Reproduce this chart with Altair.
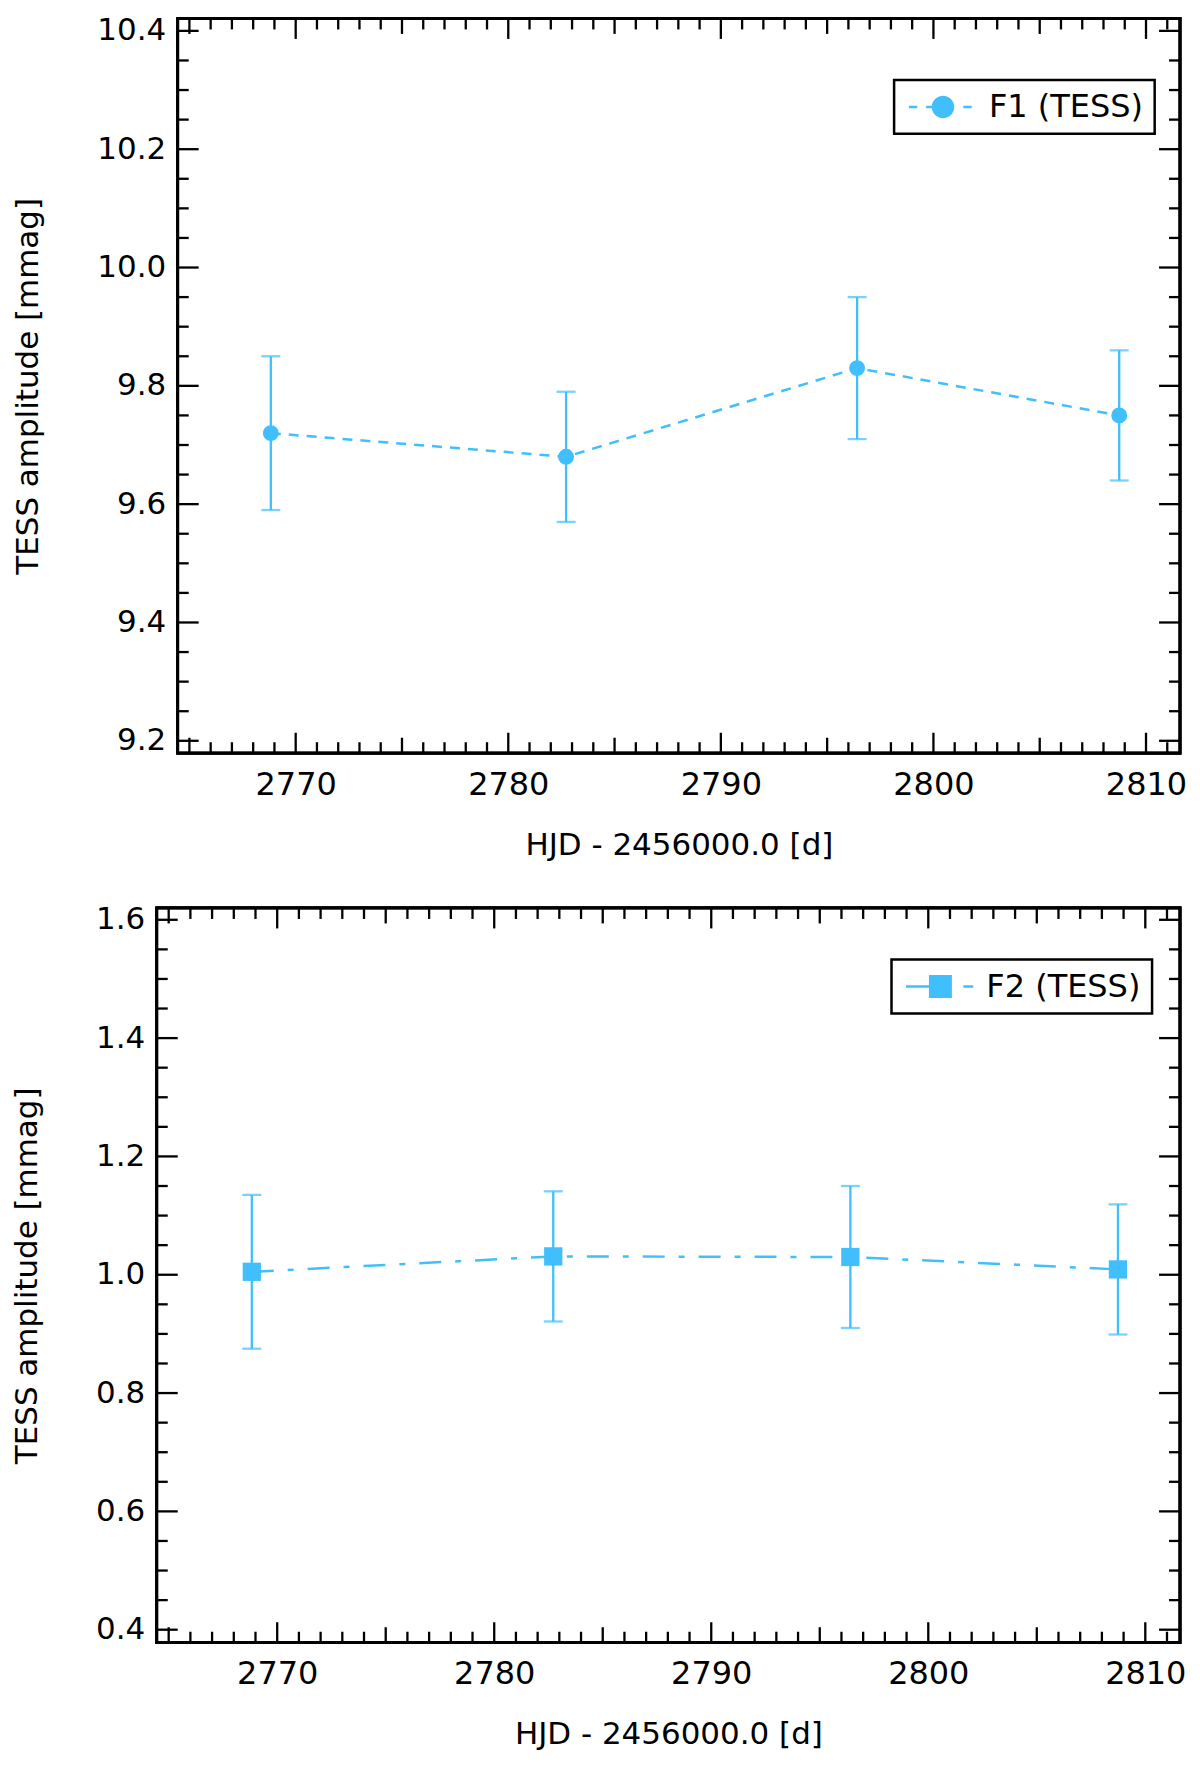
import pandas as pd
import altair as alt

# Time of each TESS segment (HJD - 2456000.0)
hjd = [2768.83, 2782.72, 2796.41, 2808.74]

# F1 amplitude and its error [mmag]
f1_amp = [9.72, 9.68, 9.83, 9.75]
f1_err = [0.13, 0.11, 0.12, 0.11]

# F2 amplitude and its error [mmag]
f2_amp = [1.005, 1.031, 1.030, 1.009]
f2_err = [0.130, 0.110, 0.120, 0.110]

# Tick labels
x_labels = [2770, 2780, 2790, 2800, 2810]
f1_labels = [9.2, 9.4, 9.6, 9.8, 10.0, 10.2, 10.4]
f2_labels = [0.4, 0.6, 0.8, 1.0, 1.2, 1.4, 1.6]

BLUE = '#40bffc'
FONT = 'DejaVu Sans'
H = 736
W = 1025
X_DOMAIN = [2764.45, 2811.6]

# inward tick marks (minor every day, medium every 5, major every 10)
x_minor = [v for v in range(2765, 2812) if v % 5 != 0]
x_mid = [v for v in range(2765, 2812) if v % 5 == 0 and v % 10 != 0]


def y_ticks(start):
    minor = [round(start + 0.05 * i, 2) for i in range(25)]
    return [v for v in minor if round(v * 100) % 20 != 0]


# legend glyphs: dashes drawn as thin filled bars plus the marker
CIRCLE_SYM = ('M-3.04,-0.11H-2.3V0.11H-3.04Z M-1.5,-0.11H-0.9V0.11H-1.5Z '
              'M1.81,-0.11H2.55V0.11H1.81Z M1,0A1,1,0,1,1,-1,0A1,1,0,1,1,1,0Z')
SQUARE_SYM = ('M-3,-0.11H-0.9V0.11H-3Z M-1,-1H1V1H-1Z M2,-0.11H2.86V0.11H2Z')


def rules(values, xs, ys, xaxis, yaxis, on_x, a, b):
    df = pd.DataFrame({'v': values})
    r = alt.Chart(df).mark_rule(color='black', strokeWidth=2.3)
    if on_x:
        return r.encode(x=alt.X('v:Q', scale=xs, axis=xaxis), y=alt.value(a), y2=alt.value(b))
    return r.encode(y=alt.Y('v:Q', scale=ys, axis=yaxis), x=alt.value(a), x2=alt.value(b))


def panel(amp, err, name, shape, size, dash, y_dom, y_labels, shift,
          leg_x, leg_y, sym, sym_size):
    # the plot frame starts `shift` px right of the view's left edge
    x_dom = [X_DOMAIN[0] - shift * (X_DOMAIN[1] - X_DOMAIN[0]) / (W - shift), X_DOMAIN[1]]
    df = pd.DataFrame({'hjd': hjd, 'amp': amp, 'err': err, 'series': name})
    xs = alt.Scale(domain=x_dom, nice=False, zero=False)
    ys = alt.Scale(domain=y_dom, nice=False, zero=False)
    xaxis = alt.Axis(values=x_labels, format='d', title='HJD - 2456000.0 [d]',
                     labelPadding=16, titlePadding=30, labelFontSize=32,
                     titleX=shift + (W - shift) / 2)
    yaxis = alt.Axis(values=y_labels, format='.1f', title='TESS amplitude [mmag]',
                     labelPadding=12, titlePadding=52, offset=-shift)
    x = alt.X('hjd:Q', scale=xs, axis=xaxis)

    base = alt.Chart(df).transform_calculate(
        lo='datum.amp - datum.err', hi='datum.amp + datum.err')

    frame = alt.Chart(df).mark_rect(filled=False, stroke='black', strokeWidth=2.7).encode(
        x=alt.XDatum(X_DOMAIN[0], scale=xs, axis=xaxis, type='quantitative'),
        x2=alt.X2Datum(X_DOMAIN[1]),
        y=alt.YDatum(y_dom[0], scale=ys, axis=yaxis, type='quantitative'),
        y2=alt.Y2Datum(y_dom[1]))
    line = base.mark_line(color=BLUE, strokeWidth=2.5, strokeDash=dash).encode(
        x=x, y=alt.Y('amp:Q', scale=ys, axis=yaxis))
    bars = base.mark_rule(color=BLUE, strokeWidth=2.3).encode(
        x=x, y=alt.Y('lo:Q', scale=ys, axis=yaxis), y2='hi:Q')
    cap_lo = base.mark_tick(color=BLUE, orient='horizontal', size=19, thickness=2.3).encode(
        x=x, y=alt.Y('lo:Q', scale=ys, axis=yaxis))
    cap_hi = base.mark_tick(color=BLUE, orient='horizontal', size=19, thickness=2.3).encode(
        x=x, y=alt.Y('hi:Q', scale=ys, axis=yaxis))
    points = base.mark_point(filled=True, shape=shape, size=size, opacity=1).encode(
        x=x, y=alt.Y('amp:Q', scale=ys, axis=yaxis),
        color=alt.Color('series:N', scale=alt.Scale(range=[BLUE]),
                        legend=alt.Legend(title=None, orient='none', legendX=leg_x, legendY=leg_y,
                                          symbolType=sym, symbolSize=sym_size,
                                          symbolStrokeWidth=0, padding=11,
                                          symbolOffset=22, labelOffset=30)))

    ticks = [
        rules(x_minor, xs, ys, xaxis, yaxis, True, 0, 11),
        rules(x_minor, xs, ys, xaxis, yaxis, True, H - 11, H),
        rules(x_mid, xs, ys, xaxis, yaxis, True, 0, 15.5),
        rules(x_mid, xs, ys, xaxis, yaxis, True, H - 15.5, H),
        rules(x_labels, xs, ys, xaxis, yaxis, True, 0, 20.5),
        rules(x_labels, xs, ys, xaxis, yaxis, True, H - 20.5, H),
        rules(y_ticks(y_labels[0]), xs, ys, xaxis, yaxis, False, shift, shift + 11),
        rules(y_ticks(y_labels[0]), xs, ys, xaxis, yaxis, False, W - 11, W),
        rules(y_labels, xs, ys, xaxis, yaxis, False, shift, shift + 21),
        rules(y_labels, xs, ys, xaxis, yaxis, False, W - 21, W),
    ]

    return alt.layer(line, bars, cap_lo, cap_hi, points, *ticks, frame).properties(
        width=W, height=H)


top = panel(f1_amp, f1_err, 'F1 (TESS)', 'circle', 254, [10, 8],
            [9.179, 10.421], f1_labels, 21, 738.6, 61.6, CIRCLE_SYM, 506)
bottom = panel(f2_amp, f2_err, 'F2 (TESS)', 'square', 335, [22, 14, 6, 14],
               [0.378, 1.620], f2_labels, 0, 736, 51.7, SQUARE_SYM, 529)

chart = alt.vconcat(top, bottom, spacing=43).resolve_scale(
    x='independent', y='independent', color='independent'
).resolve_legend(color='independent').properties(
    padding={'left': 3, 'top': 5, 'right': 5, 'bottom': 5}
).configure_view(
    strokeWidth=0
).configure_axis(
    labelFont=FONT, labelFontSize=31, labelColor='black',
    titleFont=FONT, titleFontSize=31, titleFontWeight='normal', titleColor='black',
    ticks=False, tickSize=0, domain=False, grid=False
).configure_legend(
    labelFont=FONT, labelFontSize=32, labelColor='black',
    strokeColor='black', strokeWidth=2.5, fillColor='white'
)

chart.save('out.html', embed_options={'renderer': 'svg', 'actions': False})
